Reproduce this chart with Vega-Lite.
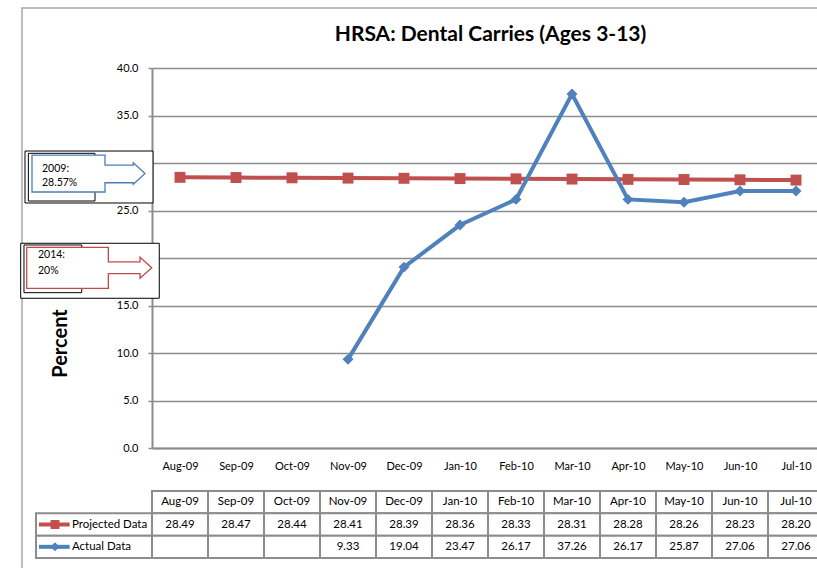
{
  "$schema": "https://vega.github.io/schema/vega-lite/v6.json",
  "autosize": {"type": "none"},
  "width": 665,
  "height": 380,
  "padding": {"left": 152, "top": 68, "right": 0, "bottom": 120},
  "background": "white",
  "config": {"font": "Lato", "view": {"stroke": null}},
  "title": {"text": "HRSA: Dental Carries (Ages 3-13)", "fontSize": 21, "fontWeight": "bold", "color": "black", "anchor": "middle", "frame": "group", "baseline": "alphabetic", "dx": 6, "dy": 55, "offset": 0, "font": "Lato"},
  "datasets": {
    "monthly": [
      {"month": "Aug-09", "Projected Data": 28.49, "Actual Data": null},
      {"month": "Sep-09", "Projected Data": 28.47, "Actual Data": null},
      {"month": "Oct-09", "Projected Data": 28.44, "Actual Data": null},
      {"month": "Nov-09", "Projected Data": 28.41, "Actual Data": 9.33},
      {"month": "Dec-09", "Projected Data": 28.39, "Actual Data": 19.04},
      {"month": "Jan-10", "Projected Data": 28.36, "Actual Data": 23.47},
      {"month": "Feb-10", "Projected Data": 28.33, "Actual Data": 26.17},
      {"month": "Mar-10", "Projected Data": 28.31, "Actual Data": 37.26},
      {"month": "Apr-10", "Projected Data": 28.28, "Actual Data": 26.17},
      {"month": "May-10", "Projected Data": 28.26, "Actual Data": 25.87},
      {"month": "Jun-10", "Projected Data": 28.23, "Actual Data": 27.06},
      {"month": "Jul-10", "Projected Data": 28.20, "Actual Data": 27.06}
    ],
    "series": [{"series": "Projected Data"}, {"series": "Actual Data"}]
  },
  "resolve": {"scale": {"x": "independent", "y": "independent"}},
  "layer": [
    {
      "data": {"name": "monthly"},
      "transform": [{"fold": ["Projected Data", "Actual Data"], "as": ["series", "value"]}],
      "encoding": {
        "x": {"field": "month", "type": "ordinal", "sort": null,
          "scale": {"type": "point", "domain": ["Aug-09","Sep-09","Oct-09","Nov-09","Dec-09","Jan-10","Feb-10","Mar-10","Apr-10","May-10","Jun-10","Jul-10"], "range": [0, 672], "padding": 0.5},
          "axis": {"title": null, "ticks": false, "domainColor": "#8c8c8c", "domainWidth": 2, "labelFontSize": 11, "labelColor": "black", "labelPadding": 12, "labelAngle": 0, "grid": false}},
        "y": {"field": "value", "type": "quantitative",
          "scale": {"domain": [0, 40], "nice": false, "zero": false},
          "axis": {"title": "Percent", "values": [0,5,10,15,20,25,30,35,40], "format": ".1f", "grid": true, "gridColor": "#8c8c8c", "gridWidth": 1.5, "domainColor": "#8c8c8c", "domainWidth": 2, "tickColor": "#8c8c8c", "tickSize": 4, "tickWidth": 1.5, "labelFontSize": 11, "labelColor": "black", "labelPadding": 10, "titleFontSize": 20, "titleFontWeight": "bold", "titleColor": "black", "titleAngle": -90, "titleX": -92, "titleY": 275, "titleAlign": "center", "titleBaseline": "middle"}},
        "color": {"field": "series", "type": "nominal", "scale": {"domain": ["Projected Data", "Actual Data"], "range": ["#C0504D", "#4F81BD"]}, "legend": null}
      },
      "layer": [
        {"mark": {"type": "line", "strokeWidth": 4}},
        {"mark": {"type": "point", "filled": true, "opacity": 1, "size": 120},
          "encoding": {"shape": {"field": "series", "type": "nominal", "scale": {"domain": ["Projected Data", "Actual Data"], "range": ["square", "diamond"]}, "legend": null}}}
      ]
    },
    {
      "data": {"name": "monthly"},
      "encoding": {
        "x": {"field": "month", "type": "ordinal", "sort": null,
          "scale": {"type": "band", "domain": ["Aug-09","Sep-09","Oct-09","Nov-09","Dec-09","Jan-10","Feb-10","Mar-10","Apr-10","May-10","Jun-10","Jul-10"], "range": [0, 672], "paddingInner": 0, "paddingOuter": 0},
          "axis": null},
        "y": {"datum": "header", "type": "nominal", "scale": {"type": "band", "domain": ["header", "Projected Data", "Actual Data"], "range": [423, 490], "paddingInner": 0, "paddingOuter": 0}, "axis": null}
      },
      "layer": [
        {"mark": {"type": "rect", "fill": "white", "stroke": "#8c8c8c", "strokeWidth": 2}},
        {"mark": {"type": "text", "fontSize": 11.5, "color": "black"},
          "encoding": {"text": {"field": "month"}}}
      ]
    },
    {
      "data": {"name": "monthly"},
      "transform": [{"fold": ["Projected Data", "Actual Data"], "as": ["series", "value"]}],
      "encoding": {
        "x": {"field": "month", "type": "ordinal", "sort": null,
          "scale": {"type": "band", "domain": ["Aug-09","Sep-09","Oct-09","Nov-09","Dec-09","Jan-10","Feb-10","Mar-10","Apr-10","May-10","Jun-10","Jul-10"], "range": [0, 672], "paddingInner": 0, "paddingOuter": 0},
          "axis": null},
        "y": {"field": "series", "type": "nominal", "scale": {"type": "band", "domain": ["header", "Projected Data", "Actual Data"], "range": [423, 490], "paddingInner": 0, "paddingOuter": 0}, "axis": null}
      },
      "layer": [
        {"mark": {"type": "rect", "fill": "white", "stroke": "#8c8c8c", "strokeWidth": 2}},
        {"transform": [{"filter": "isValid(datum.value)"}],
          "mark": {"type": "text", "fontSize": 11.5, "color": "black"},
          "encoding": {"text": {"field": "value", "type": "quantitative", "format": ".2f"}}}
      ]
    },
    {
      "data": {"name": "series"},
      "encoding": {
        "y": {"field": "series", "type": "nominal", "scale": {"type": "band", "domain": ["header", "Projected Data", "Actual Data"], "range": [423, 490], "paddingInner": 0, "paddingOuter": 0}, "axis": null}
      },
      "layer": [
        {"mark": {"type": "rect", "fill": "white", "stroke": "#8c8c8c", "strokeWidth": 2},
          "encoding": {"x": {"datum": 0, "type": "quantitative", "scale": {"type": "linear", "domain": [0, 1], "range": [-116, 0], "zero": false, "nice": false}, "axis": null}, "x2": {"datum": 1}}},
        {"mark": {"type": "rule", "strokeWidth": 4},
          "encoding": {"x": {"datum": 0.026, "type": "quantitative"}, "x2": {"datum": 0.29}, "color": {"field": "series", "type": "nominal", "legend": null}}},
        {"mark": {"type": "point", "filled": true, "opacity": 1, "size": 80},
          "encoding": {"x": {"datum": 0.164, "type": "quantitative"}, "color": {"field": "series", "type": "nominal", "legend": null}, "shape": {"field": "series", "type": "nominal", "legend": null}}},
        {"mark": {"type": "text", "fontSize": 11.5, "color": "black", "align": "left"},
          "encoding": {"x": {"datum": 0.31, "type": "quantitative"}, "text": {"field": "series"}}}
      ]
    },
    {
      "data": {"values": [{}]},
      "layer": [
        {"mark": {"type": "rect", "fillOpacity": 0, "stroke": "#a6a6a6", "strokeWidth": 1.5},
          "encoding": {"x": {"datum": -2.321, "type": "quantitative", "scale": {"type": "linear", "domain": [0, 12], "range": [0, 672], "zero": false, "nice": false}, "axis": null}, "x2": {"datum": 14},
            "y": {"datum": 46.32, "type": "quantitative", "scale": {"type": "linear", "domain": [0, 40], "zero": false, "nice": false}, "axis": null}, "y2": {"datum": -25}}},
        {"mark": {"type": "rect", "fill": "white", "stroke": "black", "strokeWidth": 1},
          "encoding": {"x": {"datum": -2.268, "type": "quantitative"}, "x2": {"datum": 0.018}, "y": {"datum": 31.26, "type": "quantitative"}, "y2": {"datum": 25.79}}},
        {"mark": {"type": "rect", "fill": "white", "stroke": "black", "strokeWidth": 1},
          "encoding": {"x": {"datum": -2.208, "type": "quantitative"}, "x2": {"datum": -1.018}, "y": {"datum": 31.02, "type": "quantitative"}, "y2": {"datum": 26.0}}},
        {"mark": {"type": "point", "filled": false, "fill": "white", "fillOpacity": 1, "opacity": 1, "stroke": "#4A7EBB", "strokeWidth": 1.3, "size": 12769,
            "shape": "M-1,-0.327 L0.292,-0.327 L0.292,-0.15 L0.793,-0.15 L0.793,-0.19 L1,0 L0.793,0.19 L0.793,0.163 L0.292,0.163 L0.292,0.327 L-1,0.327 Z"},
          "encoding": {"x": {"datum": -1.134, "type": "quantitative"}, "y": {"datum": 28.89, "type": "quantitative"}}},
        {"mark": {"type": "text", "fontSize": 10.5, "color": "black", "align": "left", "baseline": "top", "lineHeight": 14.5},
          "encoding": {"x": {"datum": -1.964, "type": "quantitative"}, "y": {"datum": 29.9, "type": "quantitative"}, "text": {"value": ["2009:", "28.57%"]}}},
        {"mark": {"type": "rect", "fill": "white", "stroke": "black", "strokeWidth": 1},
          "encoding": {"x": {"datum": -2.345, "type": "quantitative"}, "x2": {"datum": 0.13}, "y": {"datum": 21.55, "type": "quantitative"}, "y2": {"datum": 15.76}}},
        {"mark": {"type": "rect", "fill": "white", "stroke": "black", "strokeWidth": 1},
          "encoding": {"x": {"datum": -2.286, "type": "quantitative"}, "x2": {"datum": -1.255}, "y": {"datum": 21.37, "type": "quantitative"}, "y2": {"datum": 16.35}}},
        {"mark": {"type": "point", "filled": false, "fill": "white", "fillOpacity": 1, "opacity": 1, "stroke": "#BE4B48", "strokeWidth": 1.3, "size": 15625,
            "shape": "M-1,-0.328 L0.306,-0.328 L0.306,-0.093 L0.813,-0.093 L0.813,-0.168 L1,0 L0.813,0.168 L0.813,0.093 L0.306,0.093 L0.306,0.328 L-1,0.328 Z"},
          "encoding": {"x": {"datum": -1.121, "type": "quantitative"}, "y": {"datum": 18.97, "type": "quantitative"}}},
        {"mark": {"type": "text", "fontSize": 10.5, "color": "black", "align": "left", "baseline": "top", "lineHeight": 16},
          "encoding": {"x": {"datum": -2.036, "type": "quantitative"}, "y": {"datum": 20.85, "type": "quantitative"}, "text": {"value": ["2014:", "20%"]}}}
      ]
    }
  ]
}
